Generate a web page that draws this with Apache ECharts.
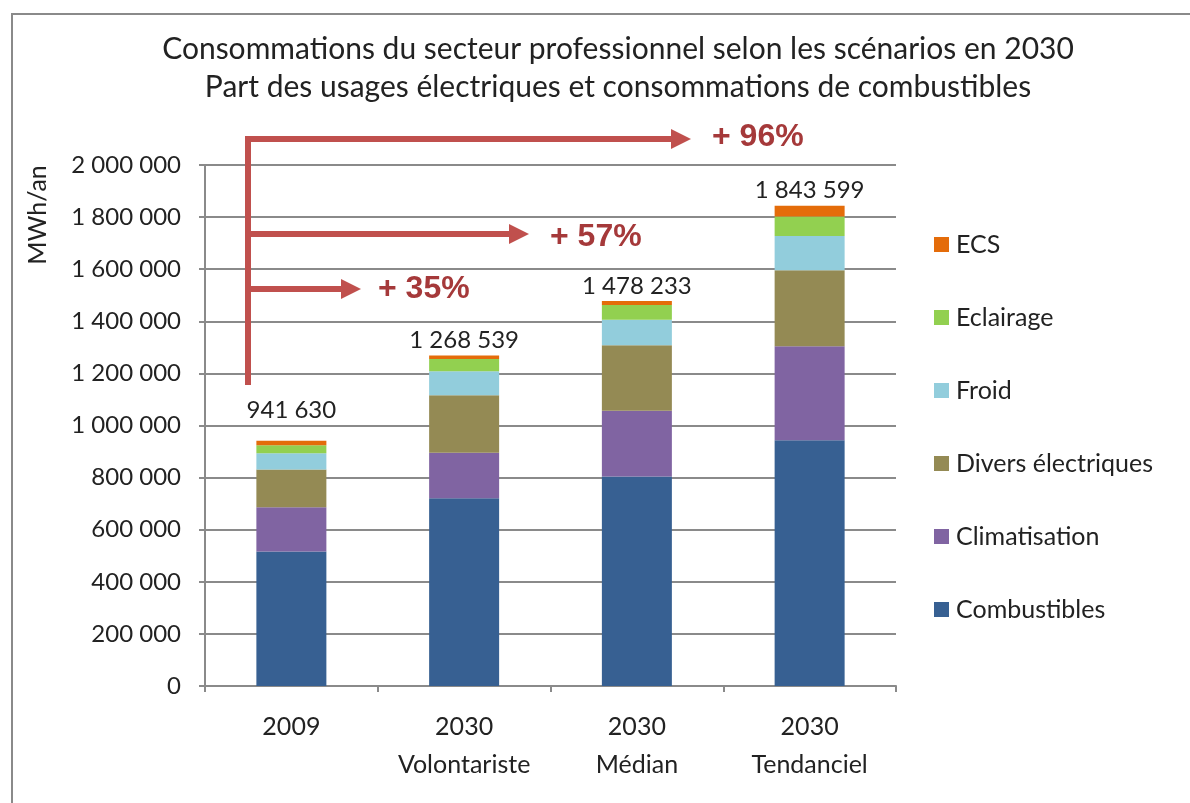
<!DOCTYPE html>
<html>
<head>
<meta charset="utf-8">
<script src="https://cdn.jsdelivr.net/npm/echarts@6/dist/echarts.min.js"></script>
<style>
  html, body { margin: 0; padding: 0; background: #fff; }
  #main { width: 1190px; height: 803px; }
</style>
</head>
<body>
<div id="main"></div>
<script>
// categories (two-line labels as in the source)
const categories = ['2009', '2030\nVolontariste', '2030\nMédian', '2030\nTendanciel'];

// MWh/an
const combustibles = [516500, 720300, 804600, 942900];
const climatisation = [169300, 175100, 251700, 361600];
const diversElec = [145000, 221100, 251400, 291300];
const froid = [62700, 91900, 98400, 131400];
const eclairage = [30700, 47200, 56400, 75400];
const ecs = [17430, 12939, 15733, 40999];

const totals = [941630, 1268539, 1478233, 1843599];
const growthLabels = ['+ 35%', '+ 57%', '+ 96%'];

const legendOrder = ['ECS', 'Eclairage', 'Froid', 'Divers électriques', 'Climatisation', 'Combustibles'];

const FONT = 'Lato, "Open Sans", sans-serif';
const RED = '#C0504D';

function fmt(v) {
    return String(v).replace(/\B(?=(\d{3})+(?!\d))/g, ' ');
}

const chart = echarts.init(document.getElementById('main'));

function bar(name, data, color) {
    return {
        name: name,
        type: 'bar',
        stack: 'total',
        barWidth: 70,
        data: data,
        itemStyle: { color: color },
        emphasis: { disabled: true }
    };
}

const ecsSeries = bar('ECS', ecs.map((v, i) => i === 0
    ? { value: v, label: { distance: 18 } }
    : v), '#E46C0A');
ecsSeries.label = {
    show: true,
    position: 'top',
    distance: 3,
    fontFamily: FONT,
    fontSize: 24,
    color: '#222',
    formatter: p => fmt(totals[p.dataIndex])
};

// arrows (annotation)
const arrowLine = { stroke: RED, lineWidth: 6 };
function arrow(y, x2) {
    return [
        { type: 'line', shape: { x1: 245, y1: y, x2: x2, y2: y }, style: arrowLine, z: 100 },
        { type: 'polygon', shape: { points: [[x2 - 1, y - 10], [x2 + 19, y], [x2 - 1, y + 10]] }, style: { fill: RED }, z: 100 }
    ];
}
const growthStyle = { fill: '#A5393A', font: 'bold 32px "Liberation Sans", Arial, sans-serif' };

chart.setOption({
    backgroundColor: '#fff',
    animation: false,
    title: {
        text: 'Consommations du secteur professionnel selon les scénarios en 2030\nPart des usages électriques et consommations de combustibles',
        left: 613,
        textAlign: 'center',
        top: 25,
        textStyle: { fontFamily: FONT, fontWeight: 'normal', fontSize: 30, color: '#222', lineHeight: 38 }
    },
    legend: {
        orient: 'vertical',
        left: 929,
        top: 227,
        data: legendOrder,
        itemWidth: 15,
        itemHeight: 15,
        itemGap: 48,
        icon: 'rect',
        textStyle: { fontFamily: FONT, fontSize: 25, color: '#222', padding: [0, 0, 0, 2] }
    },
    grid: { left: 205, right: 294, top: 165, bottom: 117 },
    xAxis: {
        type: 'category',
        data: categories,
        axisLine: { lineStyle: { color: '#8a8a8a', width: 2 } },
        axisTick: { show: true, length: 6, lineStyle: { color: '#8a8a8a', width: 2 } },
        axisLabel: { interval: 0, hideOverlap: false, fontFamily: FONT, fontSize: 25, color: '#222', lineHeight: 38, margin: 22 }
    },
    yAxis: {
        type: 'value',
        min: 0,
        max: 2000000,
        interval: 200000,
        axisLine: { show: true, lineStyle: { color: '#8a8a8a', width: 2 } },
        axisTick: { show: true, length: 6, lineStyle: { color: '#8a8a8a', width: 2 } },
        splitLine: { lineStyle: { color: '#8a8a8a', width: 2 } },
        axisLabel: { fontFamily: FONT, fontSize: 24, color: '#222', margin: 24, formatter: v => fmt(v) }
    },
    series: [
        bar('Combustibles', combustibles, '#376092'),
        bar('Climatisation', climatisation, '#8064A2'),
        bar('Divers électriques', diversElec, '#948A54'),
        bar('Froid', froid, '#92CDDC'),
        bar('Eclairage', eclairage, '#92D050'),
        ecsSeries
    ],
    graphic: [
        { type: 'rect', shape: { x: 12, y: 14, width: 1200, height: 820 }, style: { fill: 'none', stroke: '#8a8a8a', lineWidth: 2 }, z: -1, silent: true },
        { type: 'text', x: 38, y: 215, rotation: Math.PI / 2,
          style: { text: 'MWh/an', fill: '#222', font: '25px ' + FONT, align: 'center', verticalAlign: 'middle' } },
        { type: 'line', shape: { x1: 248, y1: 385, x2: 248, y2: 136 }, style: arrowLine, z: 100 },
        ...arrow(289, 342),
        ...arrow(234, 510),
        ...arrow(139, 672),
        { type: 'text', x: 378, y: 289, style: Object.assign({ text: growthLabels[0], verticalAlign: 'middle' }, growthStyle), z: 100 },
        { type: 'text', x: 550, y: 237, style: Object.assign({ text: growthLabels[1], verticalAlign: 'middle' }, growthStyle), z: 100 },
        { type: 'text', x: 712, y: 137, style: Object.assign({ text: growthLabels[2], verticalAlign: 'middle' }, growthStyle), z: 100 }
    ]
});
</script>
</body>
</html>
